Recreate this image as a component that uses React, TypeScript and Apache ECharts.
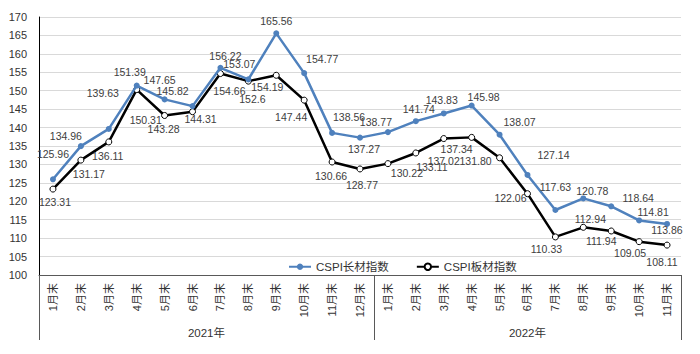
import React, { useEffect, useRef } from "react";
import * as echarts from "echarts";

const months2021 = ["1月末", "2月末", "3月末", "4月末", "5月末", "6月末", "7月末", "8月末", "9月末", "10月末", "11月末", "12月末"];
const months2022 = ["1月末", "2月末", "3月末", "4月末", "5月末", "6月末", "7月末", "8月末", "9月末", "10月末", "11月末"];
const years = ["2021年", "2022年"];
const categories = [...months2021, ...months2022];

const longIndex = [125.96, 134.96, 139.63, 151.39, 147.65, 145.82, 156.22, 153.07, 165.56, 154.77, 138.56, 137.27, 138.77, 141.74, 143.83, 145.98, 138.07, 127.14, 117.63, 120.78, 118.64, 114.81, 113.86];
const plateIndex = [123.31, 131.17, 136.11, 150.31, 143.28, 144.31, 154.66, 152.6, 154.19, 147.44, 130.66, 128.77, 130.22, 133.11, 137.02, 137.34, 131.8, 122.06, 110.33, 112.94, 111.94, 109.05, 108.11];
const plateLabels = ["123.31", "131.17", "136.11", "150.31", "143.28", "144.31", "154.66", "152.6", "154.19", "147.44", "130.66", "128.77", "130.22", "133.11", "137.02", "137.34", "131.80", "122.06", "110.33", "112.94", "111.94", "109.05", "108.11"];

const yMin = 100;
const yMax = 170;
const yStep = 5;

// label offsets (styling)
const longOffsets: [number, number][] = [
  [0, -25], [-15, -10], [-6, -36], [-7, -14], [-5, -19], [-20, -15], [5, -12], [-9, -15], [0, -12], [18, -14], [17, -16], [4, 11],
  [-12, -10], [3, -12], [-2, -13], [12, -9], [20, -13], [26, -20], [0, -23], [9, -7], [27, -8], [14, -8], [0, 6],
];
const plateOffsets: [number, number][] = [
  [2, 13], [8, 14], [-1, 14], [9, 30], [-1, 14], [8, 7], [9, 17], [4, 18], [-9, 12], [-13, 17], [-1, 14], [2, 16],
  [19, 9], [16, 14], [0, 22], [-15, 12], [-24, 3], [-17, 4], [-9, 12], [7, -8], [-10, 10], [-9, 11], [-5, 17],
];

const FONT = "Liberation Sans, Noto Sans CJK SC, sans-serif";
const BLUE = "#4f81bd";

export default function App() {
  const ref = useRef<HTMLDivElement>(null);
  useEffect(() => {
    if (!ref.current) return;
    const chart = echarts.init(ref.current, null, { renderer: "svg" });
    const labelStyle = { fontFamily: FONT, fontSize: 10.5, color: "#404040" };
    chart.setOption({
      animation: false,
      backgroundColor: "#ffffff",
      grid: { left: 39, right: 19, top: 17, bottom: 79, containLabel: false },
      legend: {
        left: 283,
        top: 256,
        itemWidth: 22,
        itemHeight: 8,
        itemGap: 27,
        textStyle: { fontFamily: FONT, fontSize: 11.5, color: "#333" },
        data: ["CSPI长材指数", "CSPI板材指数"],
      },
      xAxis: [
        {
          type: "category",
          data: categories,
          boundaryGap: true,
          axisLine: { show: true, lineStyle: { color: "#595959", width: 1 } },
          axisTick: { show: false },
          axisLabel: { rotate: 90, interval: 0, margin: 8, fontFamily: FONT, fontSize: 11, color: "#333" },
          splitLine: { show: false },
        },
        {
          type: "category",
          data: categories,
          position: "bottom",
          boundaryGap: true,
          axisLine: { show: false },
          axisLabel: { show: false },
          axisTick: {
            show: true,
            length: 65,
            interval: (i: number) => i === 0 || i === months2021.length || i === categories.length,
            lineStyle: { color: "#595959", width: 1 },
          },
        },
      ],
      yAxis: {
        type: "value",
        min: yMin,
        max: yMax,
        interval: yStep,
        axisLine: { show: true, lineStyle: { color: "#000", width: 1 } },
        axisTick: { show: false },
        axisLabel: { margin: 12, fontFamily: FONT, fontSize: 11, color: "#333" },
        splitLine: { show: true, lineStyle: { color: "#d9d9d9", width: 1 } },
      },
      series: [
        {
          name: "CSPI长材指数",
          type: "line",
          data: longIndex.map((v, i) => ({
            value: v,
            label: { offset: longOffsets[i] },
          })),
          symbol: "circle",
          symbolSize: 6,
          itemStyle: { color: BLUE },
          lineStyle: { color: BLUE, width: 2.5 },
          label: { show: true, position: "inside", ...labelStyle, formatter: (p: any) => String(p.value) },
          z: 3,
        },
        {
          name: "CSPI板材指数",
          type: "line",
          data: plateIndex.map((v, i) => ({
            value: v,
            label: { offset: plateOffsets[i], formatter: plateLabels[i] },
          })),
          symbol: "circle",
          symbolSize: 6,
          itemStyle: { color: "#ffffff", borderColor: "#000", borderWidth: 1 },
          lineStyle: { color: "#000", width: 2.5 },
          label: { show: true, position: "inside", ...labelStyle },
          z: 2,
        },
      ],
    });
    const px = (i: number) => chart.convertToPixel({ xAxisIndex: 0 }, i) as number;
    const c1 = (px(0) + px(months2021.length - 1)) / 2;
    const c2 = (px(months2021.length) + px(categories.length - 1)) / 2;
    chart.setOption({
      graphic: [
        { type: "text", x: c1, y: 333, style: { text: years[0], fontFamily: FONT, fontSize: 11.5, fill: "#333", textAlign: "center", textVerticalAlign: "middle" } },
        { type: "text", x: c2, y: 333, style: { text: years[1], fontFamily: FONT, fontSize: 11.5, fill: "#333", textAlign: "center", textVerticalAlign: "middle" } },
      ],
    });
    return () => chart.dispose();
  }, []);
  return <div ref={ref} style={{ width: 700, height: 354, margin: -8 }} />;
}
